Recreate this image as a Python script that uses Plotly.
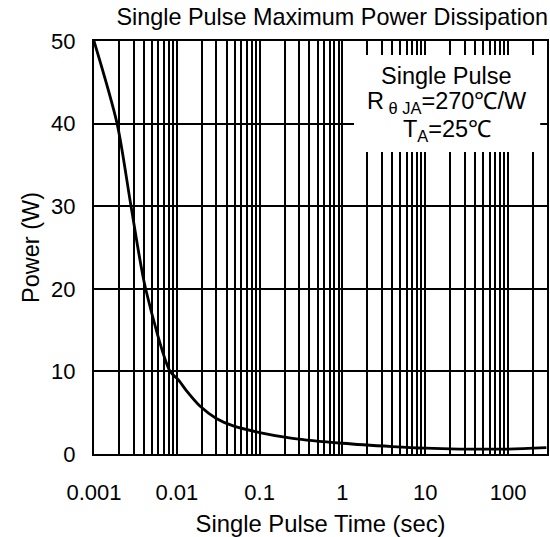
import plotly.graph_objects as go

# Data
pulse_time = [0.001, 0.0019, 0.0028, 0.0042, 0.0083, 0.0104, 0.0132, 0.019, 0.03,
              0.048, 0.1, 0.25, 1, 4, 10, 26, 100, 290]
power_w = [50, 40, 30, 20, 10, 9, 7.6, 5.8, 4.3,
           3.4, 2.6, 1.9, 1.3, 0.9, 0.7, 0.6, 0.6, 0.76]

x_tick_vals = [0.001, 0.01, 0.1, 1, 10, 100]
x_tick_text = ["0.001", "0.01", "0.1", "1", "10", "100"]
y_tick_vals = [0, 10, 20, 30, 40, 50]

title_text = "Single Pulse Maximum Power Dissipation"
x_title = "Single Pulse Time (sec)"
y_title = "Power (W)"
note_lines = ["Single Pulse", "R<sub> θ JA</sub>=270℃/W", "T<sub>A</sub>=25℃"]

FONT = "Liberation Sans, Arial, sans-serif"

# minor gridline positions (2..9 in each decade)
minor_vals = []
for d in [0.001, 0.01, 0.1, 1, 10, 100]:
    for k in range(2, 10):
        minor_vals.append(d * k)

fig = go.Figure()
fig.add_trace(go.Scatter(
    x=pulse_time, y=power_w, mode="lines",
    line=dict(color="black", width=2.8, shape="spline", smoothing=0.8),
    showlegend=False, hoverinfo="skip"))

fig.update_layout(
    width=550, height=537,
    margin=dict(l=94, r=3, t=41, b=83),
    paper_bgcolor="white", plot_bgcolor="white",
    font=dict(family=FONT, size=22, color="black"),
    title=dict(text=title_text, x=0.604, xanchor="center", xref="container",
               y=0.968, yanchor="middle", yref="container",
               font=dict(family=FONT, size=23.4, color="black")),
    xaxis=dict(type="log", range=[-3, 2.47], tickvals=x_tick_vals, ticktext=x_tick_text,
               showgrid=True, gridcolor="black", gridwidth=1.5,
               minor=dict(tickvals=minor_vals, showgrid=True, gridcolor="black", gridwidth=1.5),
               showline=True, linecolor="black", linewidth=2, mirror=True,
               ticks="", ticklabelstandoff=18, zeroline=False,
               title=dict(text=x_title, standoff=16, font=dict(size=23.8)),
               tickfont=dict(size=22), automargin=False),
    yaxis=dict(range=[0, 50], tickvals=y_tick_vals,
               showgrid=True, gridcolor="black", gridwidth=1.5,
               showline=True, linecolor="black", linewidth=2, mirror=True,
               ticks="", ticklabelstandoff=12, zeroline=False,
               title=dict(text=y_title, standoff=5, font=dict(size=23.5)),
               tickfont=dict(size=22), automargin=False),
)

# white box behind the note
fig.add_shape(type="rect", xref="paper", yref="paper",
              x0=0.574, x1=0.985, y0=0.731, y1=0.966,
              fillcolor="white", line=dict(width=0), layer="above")

note_y = [0.916, 0.852, 0.783]
for txt, yy in zip(note_lines, note_y):
    fig.add_annotation(text=txt, xref="paper", yref="paper", x=0.779, y=yy,
                       showarrow=False, xanchor="center", yanchor="middle",
                       font=dict(family=FONT, size=23.5, color="black"))

# remove the browser's default 8px body margin so the figure sits at (0, 0)
fig.write_html("out.html", config={"displayModeBar": False},
               post_script="document.body.style.margin='0';")
